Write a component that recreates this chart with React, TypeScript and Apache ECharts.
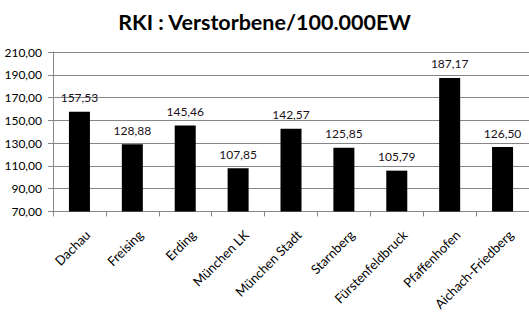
import React, { useEffect, useRef } from "react";
import * as echarts from "echarts";

const categories = [
  "Dachau",
  "Freising",
  "Erding",
  "München LK",
  "München Stadt",
  "Starnberg",
  "Fürstenfeldbruck",
  "Pfaffenhofen",
  "Aichach-Friedberg",
];
const values = [157.53, 128.88, 145.46, 107.85, 142.57, 125.85, 105.79, 187.17, 126.5];
const yMin = 70;
const yMax = 210;
const yStep = 20;
const titleText = "RKI : Verstorbene/100.000EW";

const fmt = (v: number) => v.toFixed(2).replace(".", ",");

export default function App() {
  const ref = useRef<HTMLDivElement>(null);
  useEffect(() => {
    if (!ref.current) return;
    const chart = echarts.init(ref.current, undefined, { renderer: "svg" });
    const font = "Lato, 'Open Sans', sans-serif";
    chart.setOption({
      animation: false,
      backgroundColor: "#ffffff",
      title: {
        text: titleText,
        left: "center",
        top: 6,
        textStyle: { fontFamily: font, fontWeight: "bold", fontSize: 21.5, color: "#000" },
      },
      grid: { left: 53, right: -2, top: 52, bottom: 99, containLabel: false },
      xAxis: {
        type: "category",
        data: categories,
        axisLine: { lineStyle: { color: "#868686", width: 1 } },
        axisTick: { show: true, length: 5, lineStyle: { color: "#868686" } },
        axisLabel: {
          rotate: 45,
          interval: 0,
          margin: 20,
          align: "right",
          verticalAlign: "top",
          padding: [0, -5, 0, 0],
          fontFamily: font,
          fontSize: 13,
          color: "#000",
        },
      },
      yAxis: {
        type: "value",
        min: yMin,
        max: yMax,
        interval: yStep,
        axisLine: { show: true, lineStyle: { color: "#868686", width: 1 } },
        axisTick: { show: true, length: 5, lineStyle: { color: "#868686" } },
        splitLine: { show: true, lineStyle: { color: "#868686", width: 1 } },
        axisLabel: {
          margin: 11,
          fontFamily: font,
          fontSize: 12,
          color: "#000",
          formatter: (v: number) => fmt(v),
        },
      },
      series: [
        {
          type: "bar",
          data: values,
          barWidth: 21,
          itemStyle: { color: "#000" },
          label: {
            show: true,
            position: "top",
            distance: 8,
            fontFamily: font,
            fontSize: 12,
            color: "#1a0f1a",
            formatter: (p: any) => fmt(p.value),
          },
        },
      ],
    });
    return () => chart.dispose();
  }, []);
  return (
    <div
      ref={ref}
      style={{ position: "absolute", left: 0, top: 0, width: 529, height: 313, background: "#fff" }}
    />
  );
}
